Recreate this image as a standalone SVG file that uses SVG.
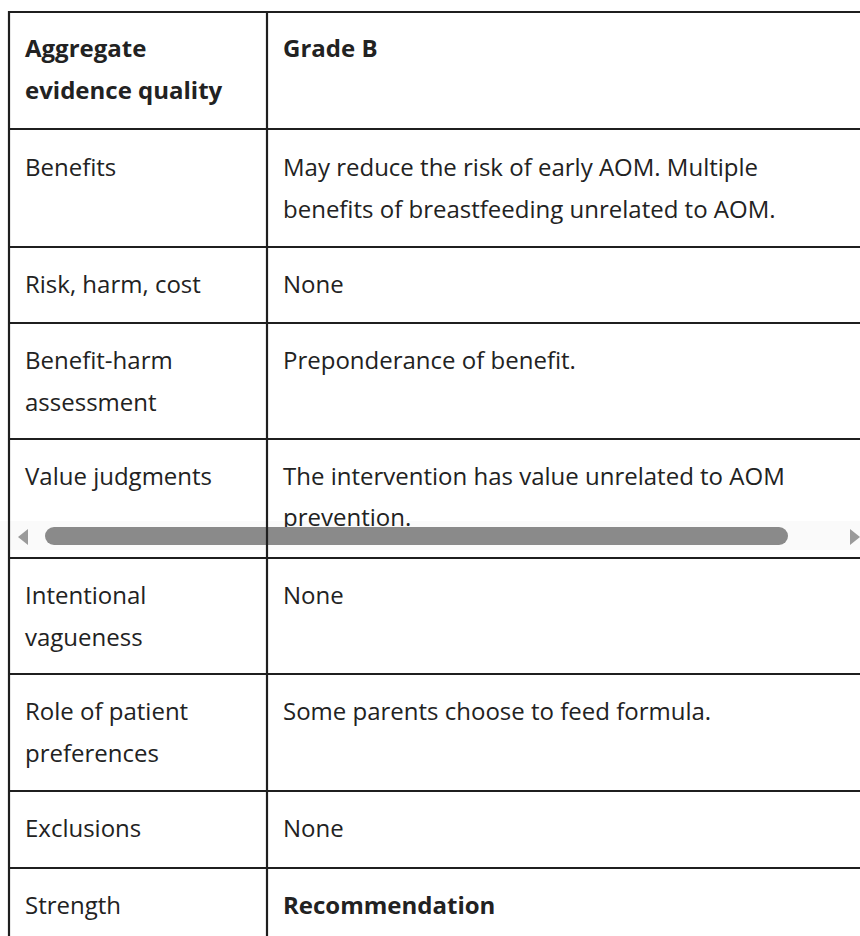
<svg xmlns="http://www.w3.org/2000/svg" width="860" height="936" viewBox="0 0 860 936">
<style>
text{font-family:"Open Sans","Noto Sans","Liberation Sans",sans-serif;font-size:24px;fill:#222}
.b{font-weight:700}
.ln{stroke:#1f1f1f;stroke-width:2.2;fill:none}
</style>
<rect x="0" y="0" width="860" height="936" fill="#ffffff"/>
<rect id="scroll-track" x="0" y="521" width="860" height="29" fill="#fafafa"/>
<g id="cells">
<g id="row-header">
<text class="b" x="25" y="56.5">Aggregate</text>
<text class="b" x="25" y="98.5">evidence quality</text>
<text class="b" x="283" y="56.5">Grade B</text>
</g>
<g id="row-benefits">
<text x="25" y="175.5">Benefits</text>
<text x="283" y="175.5">May reduce the risk of early AOM. Multiple</text>
<text x="283" y="218">benefits of breastfeeding unrelated to AOM.</text>
</g>
<g id="row-risk">
<text x="25" y="293">Risk, harm, cost</text>
<text x="283" y="293">None</text>
</g>
<g id="row-benefit-harm">
<text x="25" y="369">Benefit-harm</text>
<text x="25" y="411">assessment</text>
<text x="283" y="369">Preponderance of benefit.</text>
</g>
<g id="row-value">
<text x="25" y="485">Value judgments</text>
<text x="283" y="485">The intervention has value unrelated to AOM</text>
<text x="283" y="526">prevention.</text>
</g>
<g id="row-vagueness">
<text x="25" y="604">Intentional</text>
<text x="25" y="646">vagueness</text>
<text x="283" y="604">None</text>
</g>
<g id="row-preferences">
<text x="25" y="720">Role of patient</text>
<text x="25" y="762">preferences</text>
<text x="283" y="720">Some parents choose to feed formula.</text>
</g>
<g id="row-exclusions">
<text x="25" y="837">Exclusions</text>
<text x="283" y="837">None</text>
</g>
<g id="row-strength">
<text x="25" y="914">Strength</text>
<text class="b" x="283" y="914">Recommendation</text>
</g>
</g>
<g id="scrollbar">
<rect x="45" y="527" width="743" height="18" rx="9" fill="#8a8a8a"/>
<polygon points="18,537 28,529 28,545" fill="#9a9a9a"/>
<polygon points="860,537 850,529 850,545" fill="#9a9a9a"/>
</g>
<g id="grid">
<path class="ln" d="M9,12 H860 M9,129 H860 M9,247 H860 M9,323 H860 M9,439 H860 M9,558 H860 M9,674 H860 M9,791 H860 M9,868 H860"/>
<path class="ln" d="M9,11 V936 M267,12 V936"/>
</g>
</svg>
